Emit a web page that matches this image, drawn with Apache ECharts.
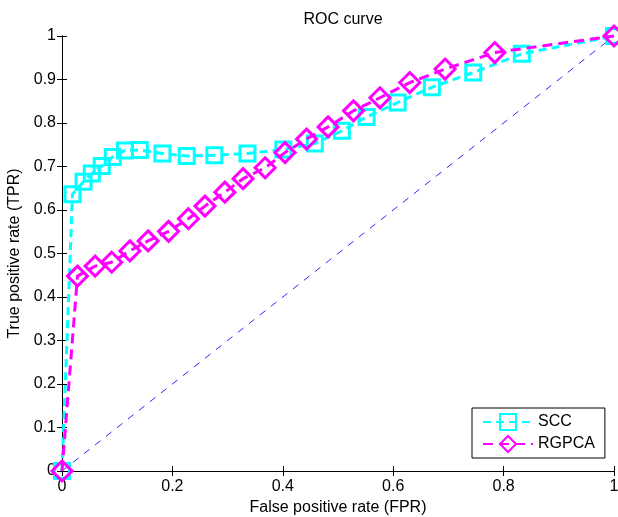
<!DOCTYPE html>
<html>
<head>
<meta charset="utf-8">
<script src="https://cdn.jsdelivr.net/npm/echarts@6/dist/echarts.min.js"></script>
<style>
  html, body { margin: 0; padding: 0; background: #fff; }
  #roc { width: 618px; height: 517px; }
</style>
</head>
<body>
<div id="roc"></div>
<script>
// values
var sccFpr = [0, 0.019, 0.039, 0.054, 0.072, 0.092, 0.114, 0.141, 0.182, 0.226, 0.276, 0.336, 0.401, 0.458, 0.507, 0.552, 0.608, 0.670, 0.745, 0.833, 1];
var sccTpr = [0, 0.636, 0.665, 0.684, 0.701, 0.722, 0.737, 0.738, 0.730, 0.724, 0.726, 0.730, 0.739, 0.753, 0.782, 0.814, 0.847, 0.882, 0.916, 0.959, 1];
var rgpcaFpr = [0, 0.028, 0.060, 0.090, 0.123, 0.156, 0.193, 0.229, 0.259, 0.295, 0.328, 0.368, 0.404, 0.443, 0.482, 0.528, 0.576, 0.630, 0.694, 0.784, 1];
var rgpcaTpr = [0, 0.448, 0.471, 0.480, 0.506, 0.529, 0.551, 0.580, 0.609, 0.641, 0.672, 0.697, 0.732, 0.763, 0.791, 0.828, 0.858, 0.893, 0.924, 0.962, 1];
var chanceLine = [[0, 0], [1, 1]];

function pairs(xs, ys) {
    var out = [];
    for (var i = 0; i < xs.length; i++) {
        out.push([xs[i], ys[i]]);
    }
    return out;
}

var font = 'Liberation Sans, Arial, Helvetica, sans-serif';
var chart = echarts.init(document.getElementById('roc'));

var boxAxis = {
    axisLine: { show: true, lineStyle: { color: '#000', width: 1 } },
    axisTick: { show: true, inside: true, length: 5, lineStyle: { color: '#000' } },
    splitLine: { show: false }
};

var option = {
    animation: false,
    backgroundColor: '#fff',
    title: {
        text: 'ROC curve',
        left: 338,
        top: 7,
        textAlign: 'center',
        textStyle: { fontFamily: font, fontSize: 16, fontWeight: 'normal', color: '#000' }
    },
    grid: { left: 62, right: 4, top: 36, bottom: 46, outerBoundsMode: 'none', containLabel: false },
    legend: {
        left: 472,
        top: 408,
        width: 132,
        orient: 'vertical',
        backgroundColor: '#fff',
        borderColor: '#000',
        borderWidth: 1,
        borderRadius: 0,
        padding: [5, 10, 5, 10],
        itemGap: 4,
        itemWidth: 50,
        itemHeight: 20,
        textStyle: { fontFamily: font, fontSize: 16, color: '#000' },
        data: ['SCC', 'RGPCA']
    },
    xAxis: [
        Object.assign({
            type: 'value', min: 0, max: 1, interval: 0.2,
            name: 'False positive rate (FPR)', nameLocation: 'middle', nameGap: 28,
            nameTextStyle: { fontFamily: font, fontSize: 16, color: '#000' },
            axisLabel: { fontFamily: font, fontSize: 16, color: '#000', margin: 8 }
        }, boxAxis),
        Object.assign({
            type: 'value', min: 0, max: 1, interval: 0.2, position: 'top',
            axisLabel: { show: false }
        }, boxAxis)
    ],
    yAxis: [
        Object.assign({
            type: 'value', min: 0, max: 1, interval: 0.1,
            name: 'True positive rate (TPR)', nameLocation: 'middle', nameGap: 36,
            nameTextStyle: { fontFamily: font, fontSize: 16, color: '#000' },
            axisLabel: { fontFamily: font, fontSize: 16, color: '#000', margin: 6 }
        }, boxAxis),
        Object.assign({
            type: 'value', min: 0, max: 1, interval: 0.1, position: 'right',
            axisLabel: { show: false }
        }, boxAxis)
    ],
    series: [
        {
            name: 'chance',
            type: 'line',
            data: chanceLine,
            symbol: 'none',
            silent: true,
            z: 1,
            lineStyle: { color: '#2b2bff', width: 1, type: [7, 7] }
        },
        {
            name: 'SCC',
            type: 'line',
            data: pairs(sccFpr, sccTpr),
            symbol: 'rect',
            symbolSize: 15,
            clip: false,
            z: 2,
            lineStyle: { color: '#00ffff', width: 3, type: [8, 5] },
            itemStyle: { color: 'rgba(255,255,255,0)', borderColor: '#00ffff', borderWidth: 3 }
        },
        {
            name: 'RGPCA',
            type: 'line',
            data: pairs(rgpcaFpr, rgpcaTpr),
            symbol: 'diamond',
            symbolSize: [20, 20],
            clip: false,
            z: 3,
            lineStyle: { color: '#ff00ff', width: 3, type: [10, 6] },
            itemStyle: { color: 'rgba(255,255,255,0)', borderColor: '#ff00ff', borderWidth: 3 }
        }
    ]
};

chart.setOption(option);
</script>
</body>
</html>
